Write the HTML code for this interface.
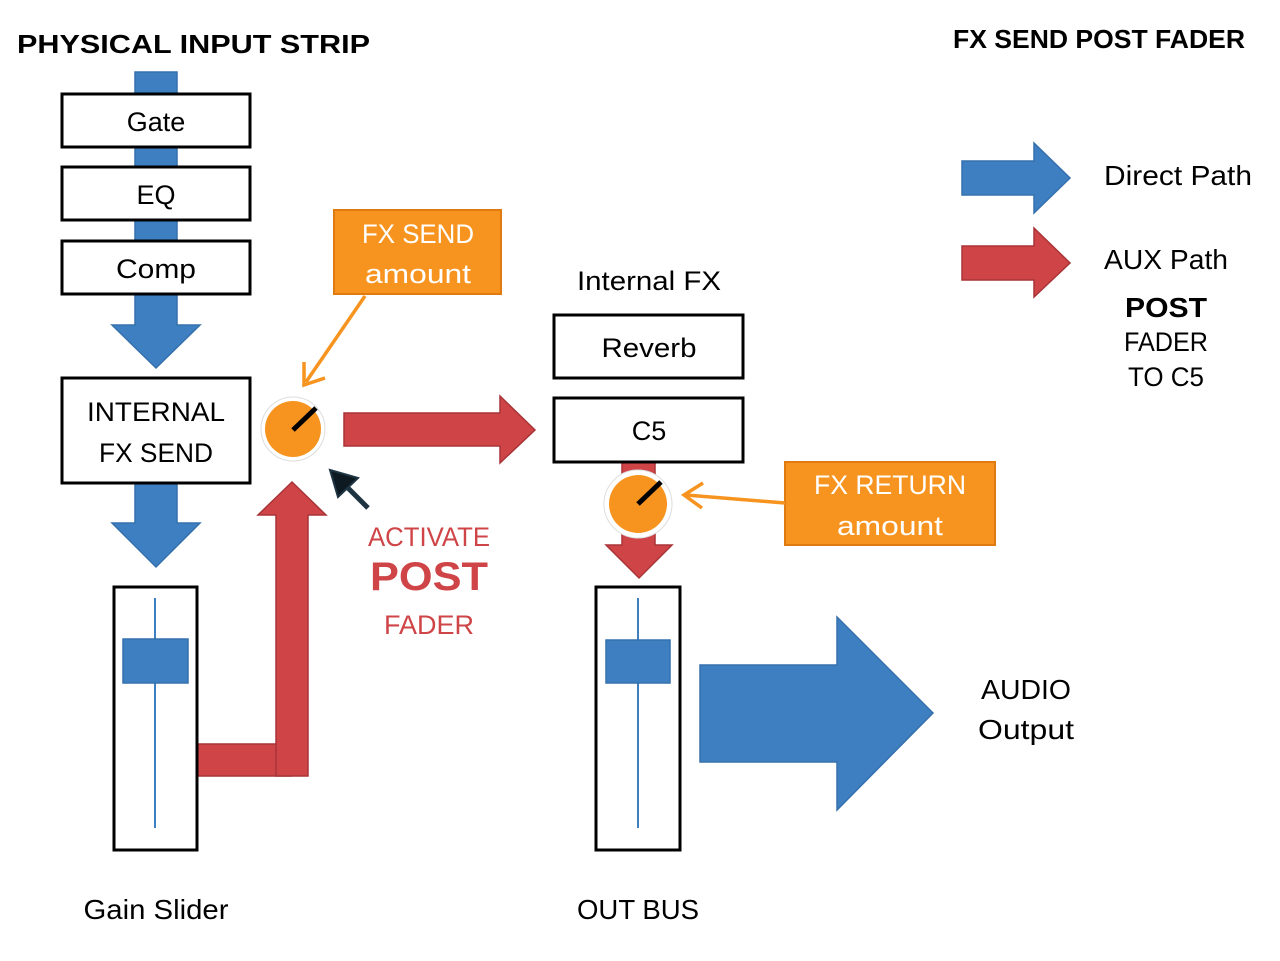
<!DOCTYPE html>
<html><head><meta charset="utf-8"><style>
html,body{margin:0;padding:0;background:#fff;}
svg{display:block;}
text{font-family:"Liberation Sans",sans-serif;}
</style></head><body>
<svg width="1280" height="961" viewBox="0 0 1280 961" xmlns="http://www.w3.org/2000/svg">
<rect width="1280" height="961" fill="#fff"/>
<!-- titles -->
<text x="17" y="53" font-size="26" font-weight="bold" textLength="353" lengthAdjust="spacingAndGlyphs">PHYSICAL INPUT STRIP</text>
<text x="953" y="48" font-size="26" font-weight="bold" textLength="292" lengthAdjust="spacingAndGlyphs">FX SEND POST FADER</text>

<!-- left blue path -->
<g fill="#3d7fc1" stroke="#3570ad" stroke-width="1.5">
<polygon points="135,72 177,72 177,325 200,325 156,368 112,325 135,325"/>
<polygon points="135,483 177,483 177,523 200,523 156,567 112,523 135,523"/>
</g>
<g fill="#fff" stroke="#000" stroke-width="3">
<rect x="62" y="94" width="188" height="53"/>
<rect x="62" y="167" width="188" height="53"/>
<rect x="62" y="241" width="188" height="53"/>
<rect x="62" y="378" width="188" height="105"/>
</g>
<g font-size="27" text-anchor="middle">
<text x="156" y="131">Gate</text>
<text x="156" y="204">EQ</text>
<text x="156" y="278" textLength="80" lengthAdjust="spacingAndGlyphs">Comp</text>
<text x="156" y="421" textLength="138" lengthAdjust="spacingAndGlyphs">INTERNAL</text>
<text x="156" y="462" textLength="114" lengthAdjust="spacingAndGlyphs">FX SEND</text>
</g>

<!-- red L path -->
<g fill="#cf4447" stroke="#a83438" stroke-width="1.5">
<rect x="197" y="744" width="94" height="32"/>
<polygon points="276,776 308,776 308,515 326,515 292,482 258,515 276,515"/>
<polygon points="344,413 500,413 500,396 535,430 500,463 500,446 344,446"/>
</g>

<!-- gain slider -->
<rect x="114" y="587" width="83" height="263" fill="#fff" stroke="#000" stroke-width="3"/>
<line x1="155" y1="598" x2="155" y2="828" stroke="#3d7fc1" stroke-width="2"/>
<rect x="123" y="639" width="65" height="44" fill="#3d7fc1" stroke="#3570ad" stroke-width="1.5"/>

<!-- knob 1 -->
<circle cx="293" cy="429" r="32" fill="#fff" stroke="#ddd" stroke-width="1"/>
<circle cx="293" cy="429" r="28" fill="#f7941f"/>
<line x1="293" y1="430" x2="316" y2="408" stroke="#000" stroke-width="5"/>

<!-- FX send box -->
<rect x="334" y="210" width="167" height="84" fill="#f7941f" stroke="#e07b12" stroke-width="2"/>
<text x="418" y="243" font-size="27" fill="#fff" text-anchor="middle" textLength="112" lengthAdjust="spacingAndGlyphs">FX SEND</text>
<text x="418" y="283" font-size="27" fill="#fff" text-anchor="middle" textLength="106" lengthAdjust="spacingAndGlyphs">amount</text>
<line x1="365" y1="296" x2="306" y2="382" stroke="#f7941f" stroke-width="3.5"/>
<polyline points="304,362 304,385 325,378" fill="none" stroke="#f7941f" stroke-width="3.5"/>

<!-- dark pointer -->
<line x1="368" y1="508" x2="345" y2="485" stroke="#1e3442" stroke-width="5"/>
<polygon points="330,470 358,478 338,497" fill="#0d1a22" stroke="#1e3442" stroke-width="2"/>

<!-- activate post fader -->
<text x="429" y="546" font-size="27" fill="#cf4447" text-anchor="middle" textLength="122" lengthAdjust="spacingAndGlyphs">ACTIVATE</text>
<text x="429" y="590" font-size="40" font-weight="bold" fill="#cf4447" text-anchor="middle" textLength="118" lengthAdjust="spacingAndGlyphs">POST</text>
<text x="429" y="634" font-size="27" fill="#cf4447" text-anchor="middle">FADER</text>

<!-- internal FX -->
<text x="649" y="290" font-size="27" text-anchor="middle" textLength="144" lengthAdjust="spacingAndGlyphs">Internal FX</text>
<rect x="554" y="315" width="189" height="63" fill="#fff" stroke="#000" stroke-width="3"/>
<text x="649" y="357" font-size="27" text-anchor="middle" textLength="95" lengthAdjust="spacingAndGlyphs">Reverb</text>

<!-- red down from C5 -->
<polygon points="622,460 655,460 655,545 672,545 639,578 606,545 622,545" fill="#cf4447" stroke="#a83438" stroke-width="1.5"/>
<rect x="554" y="398" width="189" height="64" fill="#fff" stroke="#000" stroke-width="3"/>
<text x="649" y="440" font-size="27" text-anchor="middle">C5</text>

<!-- knob 2 -->
<circle cx="638" cy="504" r="34" fill="#fff" stroke="#ddd" stroke-width="1"/>
<circle cx="638" cy="504" r="29" fill="#f7941f"/>
<line x1="638" y1="504" x2="661" y2="482" stroke="#000" stroke-width="5"/>

<!-- FX return -->
<rect x="785" y="462" width="210" height="83" fill="#f7941f" stroke="#e07b12" stroke-width="2"/>
<text x="890" y="494" font-size="27" fill="#fff" text-anchor="middle" textLength="152" lengthAdjust="spacingAndGlyphs">FX RETURN</text>
<text x="890" y="535" font-size="27" fill="#fff" text-anchor="middle" textLength="106" lengthAdjust="spacingAndGlyphs">amount</text>
<line x1="785" y1="503" x2="686" y2="495" stroke="#f7941f" stroke-width="3.5"/>
<polyline points="703,483 684,495 702,508" fill="none" stroke="#f7941f" stroke-width="3.5"/>

<!-- out bus slider -->
<rect x="596" y="587" width="84" height="263" fill="#fff" stroke="#000" stroke-width="3"/>
<line x1="638" y1="598" x2="638" y2="828" stroke="#3d7fc1" stroke-width="2"/>
<rect x="606" y="640" width="64" height="43" fill="#3d7fc1" stroke="#3570ad" stroke-width="1.5"/>

<!-- big output arrow -->
<polygon points="700,665 837,665 837,617 933,713 837,810 837,762 700,762" fill="#3d7fc1" stroke="#3570ad" stroke-width="1.5"/>
<text x="1026" y="699" font-size="28" text-anchor="middle" textLength="90" lengthAdjust="spacingAndGlyphs">AUDIO</text>
<text x="1026" y="739" font-size="28" text-anchor="middle" textLength="96" lengthAdjust="spacingAndGlyphs">Output</text>

<!-- bottom labels -->
<text x="156" y="919" font-size="28" text-anchor="middle" textLength="145" lengthAdjust="spacingAndGlyphs">Gain Slider</text>
<text x="638" y="919" font-size="28" text-anchor="middle" textLength="122" lengthAdjust="spacingAndGlyphs">OUT BUS</text>

<!-- legend -->
<polygon points="962,161 1034,161 1034,143 1070,178 1034,213 1034,195 962,195" fill="#3d7fc1" stroke="#3570ad" stroke-width="1.5"/>
<polygon points="962,246 1034,246 1034,228 1070,263 1034,297 1034,280 962,280" fill="#cf4447" stroke="#a83438" stroke-width="1.5"/>
<text x="1104" y="185" font-size="28" textLength="148" lengthAdjust="spacingAndGlyphs">Direct Path</text>
<text x="1104" y="269" font-size="28" textLength="124" lengthAdjust="spacingAndGlyphs">AUX Path</text>
<text x="1166" y="317" font-size="28" font-weight="bold" text-anchor="middle" textLength="82" lengthAdjust="spacingAndGlyphs">POST</text>
<text x="1166" y="351" font-size="27" text-anchor="middle" textLength="84" lengthAdjust="spacingAndGlyphs">FADER</text>
<text x="1166" y="386" font-size="27" text-anchor="middle" textLength="76" lengthAdjust="spacingAndGlyphs">TO C5</text>
</svg>
</body></html>
